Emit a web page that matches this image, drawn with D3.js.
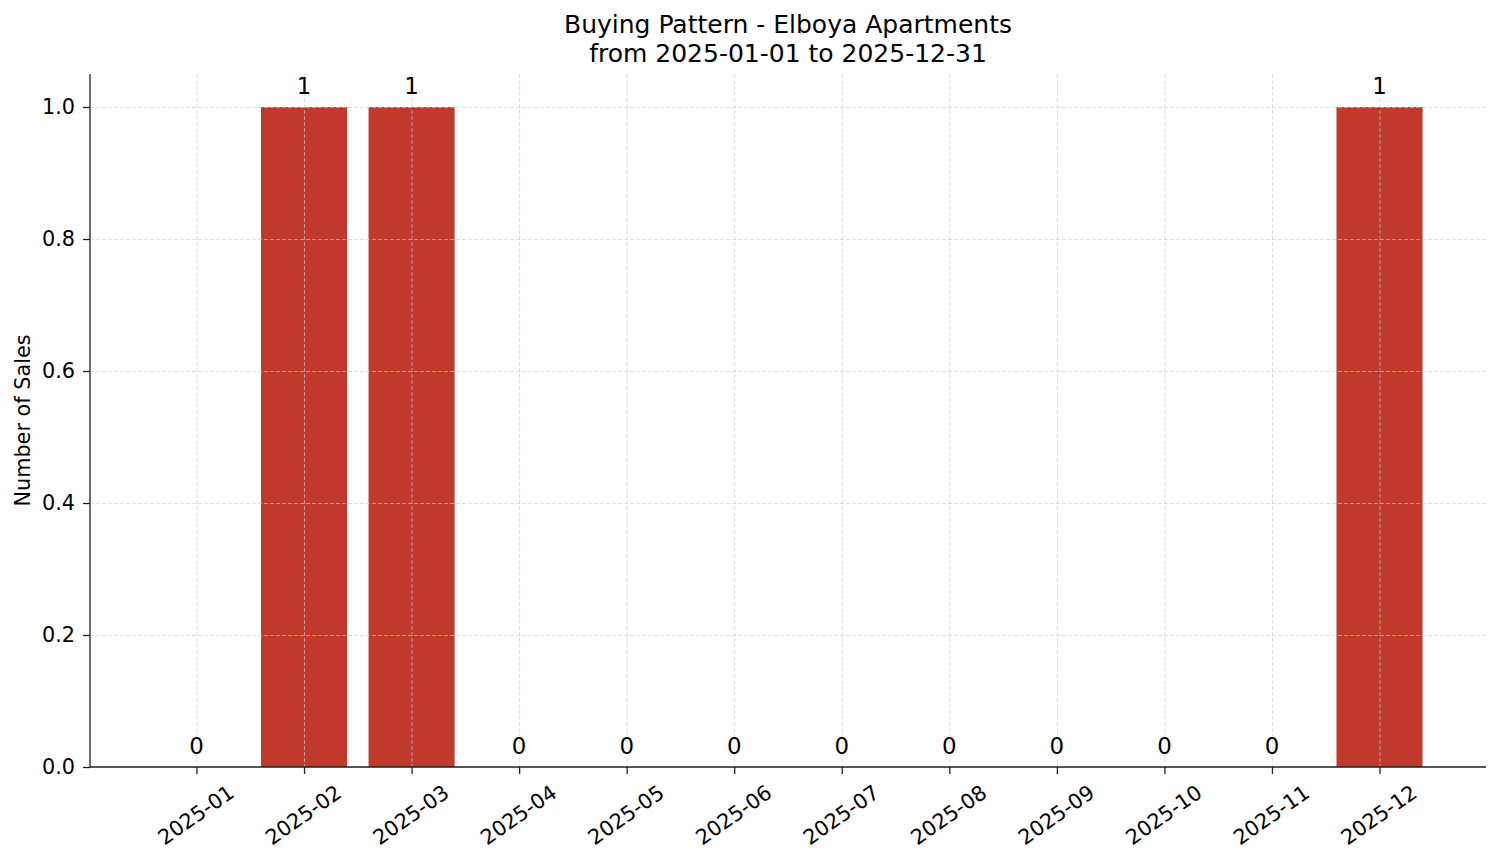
<!DOCTYPE html>
<html>
  <head>
    <meta charset="utf-8">
    <title>Buying Pattern - Elboya Apartments</title>
    <script src="https://d3js.org/d3.v7.min.js"></script>
    <style>
      body { margin: 0; background: #fff; }
      svg { font-family: "DejaVu Sans", sans-serif; }
      .bar { fill: #c0392b; }
      .grid line { stroke: #cccccc; stroke-dasharray: 4,2; stroke-width: 0.8; opacity: 0.8; }
      .grid path { display: none; }
      .axis path, .axis line { stroke: #222; stroke-width: 1.3; }
    </style>
  </head>
  <body>
    <svg width="1501" height="863"></svg>
    <script>
      var months = ["2025-01", "2025-02", "2025-03", "2025-04", "2025-05", "2025-06",
                    "2025-07", "2025-08", "2025-09", "2025-10", "2025-11", "2025-12"];
      var sales = [0, 1, 1, 0, 0, 0, 0, 0, 0, 0, 0, 1];
      var yTicks = [0, 0.2, 0.4, 0.6, 0.8, 1.0];

      var margin = {top: 74, right: 15, bottom: 96, left: 90},
          width = 1501 - margin.left - margin.right,
          height = 863 - margin.top - margin.bottom;

      var svg = d3.select("svg")
        .append("g")
          .attr("transform", "translate(" + margin.left + "," + margin.top + ")");

      // matplotlib-like categorical positions: index -> pixel with 5% margins
      var n = months.length;
      var x = d3.scaleLinear()
          .domain([-0.4 - 0.59, n - 1 + 0.4 + 0.59])
          .range([0, width]);
      var bw = x(0.8) - x(0);

      var y = d3.scaleLinear()
          .domain([0, 1.05])
          .range([height, 0]);

      // bars
      svg.selectAll(".bar")
          .data(sales)
          .enter().append("rect")
          .attr("class", "bar")
          .attr("x", function(d, i) { return x(i) - bw / 2; })
          .attr("y", function(d) { return y(d); })
          .attr("width", bw)
          .attr("height", function(d) { return height - y(d); });

      // grid on top of bars
      svg.append("g")
          .attr("class", "grid")
          .call(d3.axisLeft(y).tickValues(yTicks).tickSize(-width).tickFormat(""));
      svg.append("g")
          .attr("class", "grid")
          .call(d3.axisBottom(x).tickValues(d3.range(n)).tickSize(height).tickFormat(""))
          .selectAll("line")
          .attr("y1", 0).attr("y2", height);

      // value labels
      svg.selectAll(".val")
          .data(sales)
          .enter().append("text")
          .attr("class", "val")
          .attr("x", function(d, i) { return x(i); })
          .attr("y", function(d) { return y(d) - 13; })
          .attr("text-anchor", "middle")
          .style("font-size", "22.9px")
          .text(function(d) { return d; });

      // axes
      var xAxis = svg.append("g")
          .attr("class", "axis")
          .attr("transform", "translate(0," + height + ")")
          .call(d3.axisBottom(x).tickValues(d3.range(n)).tickSize(7)
                .tickFormat(function(i) { return months[i]; }));
      xAxis.attr("font-family", null).attr("font-size", null);
      xAxis.select(".domain").attr("d", "M0,0H" + width);
      xAxis.selectAll("text")
          .attr("y", 0).attr("dy", null)
          .attr("dominant-baseline", "central")
          .attr("text-anchor", "middle")
          .style("font-size", "20.8px")
          .style("fill", "#000")
          .attr("transform", "translate(-1,48) rotate(-35)");

      var yAxis = svg.append("g")
          .attr("class", "axis")
          .call(d3.axisLeft(y).tickValues(yTicks).tickSize(7).tickPadding(8)
                .tickFormat(d3.format(".1f")));
      yAxis.attr("font-family", null).attr("font-size", null);
      yAxis.select(".domain").attr("d", "M0," + height + "V0");
      yAxis.selectAll("text")
          .style("font-size", "20.8px")
          .style("fill", "#000");

      // y label
      svg.append("text")
          .attr("transform", "rotate(-90)")
          .attr("x", -height / 2)
          .attr("y", -60)
          .attr("text-anchor", "middle")
          .style("font-size", "20.8px")
          .text("Number of Sales");

      // title
      var title = svg.append("text")
          .attr("x", width / 2)
          .attr("y", -41)
          .attr("text-anchor", "middle")
          .style("font-size", "25px");
      title.append("tspan").attr("x", width / 2).text("Buying Pattern - Elboya Apartments");
      title.append("tspan").attr("x", width / 2).attr("dy", 29).text("from 2025-01-01 to 2025-12-31");
    </script>
  </body>
</html>
